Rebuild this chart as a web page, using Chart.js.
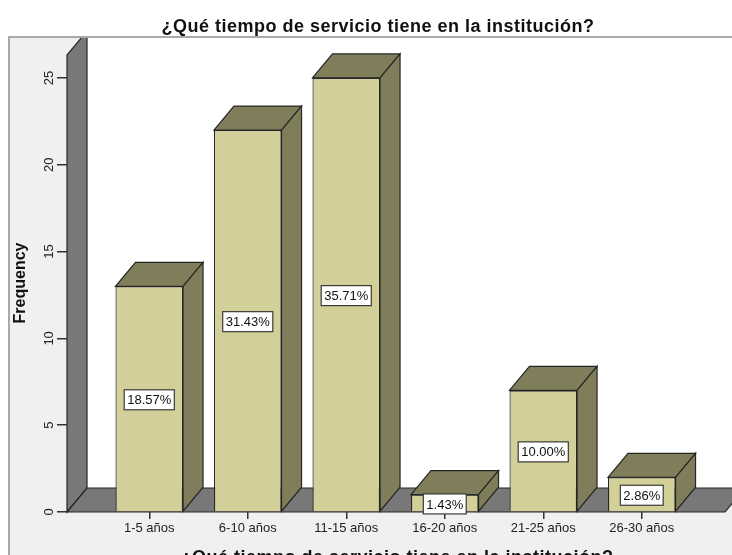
<!DOCTYPE html>
<html>
<head>
<meta charset="utf-8">
<script src="https://cdn.jsdelivr.net/npm/chart.js@4"></script>
<style>
  html, body { margin: 0; padding: 0; background: #fff; }
  #wrap { width: 732px; height: 555px; overflow: hidden; }
</style>
</head>
<body>
<div id="wrap"><canvas id="myBarChart" width="732" height="555"></canvas></div>
<script>
var chartTitle = "¿Qué tiempo de servicio tiene en la institución?";
var yTitle = "Frequency";
var categories = ["1-5 años", "6-10 años", "11-15 años", "16-20 años", "21-25 años", "26-30 años"];
var frequency = [13, 22, 25, 1, 7, 2];
var yTicks = [0, 5, 10, 15, 20, 25];

var total = frequency.reduce(function (a, b) { return a + b; }, 0);
var DX = 20, DY = 24;
var FONT = 'Arial, "Liberation Sans", sans-serif';

function poly(ctx, pts, fill) {
  ctx.beginPath();
  ctx.moveTo(pts[0][0], pts[0][1]);
  for (var i = 1; i < pts.length; i++) ctx.lineTo(pts[i][0], pts[i][1]);
  ctx.closePath();
  ctx.fillStyle = fill;
  ctx.fill();
  ctx.strokeStyle = "#262626";
  ctx.lineWidth = 1.2;
  ctx.stroke();
}

// frame, walls and floor behind everything
var room = {
  id: "room",
  beforeDraw: function (chart) {
    var ctx = chart.ctx, a = chart.chartArea, w = chart.width, h = chart.height;
    ctx.save();
    ctx.fillStyle = "#fff";
    ctx.fillRect(0, 0, w, h);
    ctx.fillStyle = "#f0f0f0";
    ctx.fillRect(9, a.top, w - 9, h - a.top);
    ctx.fillStyle = "#fff";
    ctx.fillRect(a.left + DX, a.top, w, a.bottom - DY - a.top);

    ctx.save();
    ctx.beginPath();
    ctx.rect(0, a.top, w, h);
    ctx.clip();
    poly(ctx, [[a.left, a.bottom], [a.left, a.top + 18], [a.left + DX, a.top + 18 - DY], [a.left + DX, a.bottom - DY]], "#787878");
    poly(ctx, [[a.left, a.bottom], [a.right, a.bottom], [a.right + DX, a.bottom - DY], [a.left + DX, a.bottom - DY]], "#787878");
    ctx.restore();

    ctx.strokeStyle = "#a9a9a9";
    ctx.lineWidth = 2;
    ctx.beginPath();
    ctx.moveTo(9, h);
    ctx.lineTo(9, a.top);
    ctx.lineTo(w, a.top);
    ctx.stroke();
    ctx.restore();
  },
  afterDatasetsDraw: function (chart) {
    var ctx = chart.ctx;
    var meta = chart.getDatasetMeta(0);
    ctx.save();
    meta.data.forEach(function (bar, i) {
      var p = bar.getProps(["x", "y", "base", "width"], true);
      var l = p.x - p.width / 2, r = p.x + p.width / 2;
      poly(ctx, [[l, p.y], [l + DX, p.y - DY], [r + DX, p.y - DY], [r, p.y]], "#807e5a");
      poly(ctx, [[r, p.y], [r + DX, p.y - DY], [r + DX, p.base - DY], [r, p.base]], "#807e5a");
    });
    meta.data.forEach(function (bar, i) {
      var p = bar.getProps(["x", "y", "base"], true);
      var txt = (frequency[i] / total * 100).toFixed(2) + "%";
      ctx.font = "13px " + FONT;
      var tw = ctx.measureText(txt).width + 6;
      var cy = (p.y + p.base) / 2 + 1;
      ctx.fillStyle = "#fff";
      ctx.fillRect(p.x - tw / 2, cy - 10, tw, 20);
      ctx.strokeStyle = "#3a3a3a";
      ctx.lineWidth = 1.2;
      ctx.strokeRect(p.x - tw / 2, cy - 10, tw, 20);
      ctx.fillStyle = "#111";
      ctx.textAlign = "center";
      ctx.textBaseline = "middle";
      ctx.fillText(txt, p.x, cy + 1);
    });
    ctx.restore();
  },
  afterDraw: function (chart) {
    var ctx = chart.ctx;
    ctx.save();
    ctx.fillStyle = "#111";
    ctx.textAlign = "center";
    ctx.textBaseline = "middle";
    ctx.font = "bold 18px " + FONT;
    ctx.letterSpacing = "0.5px";
    ctx.fillText(chartTitle, 378, 27);
    ctx.fillText(chartTitle, 397, 558);
    ctx.letterSpacing = "0px";
    ctx.font = "bold 16px " + FONT;
    ctx.translate(21, 283);
    ctx.rotate(-Math.PI / 2);
    ctx.fillText(yTitle, 0, 0);
    ctx.restore();
  }
};

Chart.defaults.font.family = FONT;

new Chart(document.getElementById("myBarChart").getContext("2d"), {
  type: "bar",
  data: {
    datasets: [{
      label: yTitle,
      data: frequency.map(function (v, i) { return { x: i, y: v }; }),
      backgroundColor: "#d3cf98",
      borderColor: "#262626",
      borderWidth: 1.2,
      categoryPercentage: 1,
      barPercentage: 0.686
    }]
  },
  options: {
    responsive: false,
    animation: false,
    devicePixelRatio: 1,
    layout: { padding: { top: 37, right: 7, left: 0, bottom: 0 } },
    plugins: { legend: { display: false }, tooltip: { enabled: false }, title: { display: false } },
    scales: {
      x: {
        type: "linear",
        offset: false,
        bounds: "data",
        min: -0.835,
        max: 5.845,
        afterBuildTicks: function (s) { s.ticks = categories.map(function (c, i) { return { value: i }; }); },
        afterFit: function (s) { s.height = 43; },
        border: { display: false },
        grid: { offset: false, drawOnChartArea: false, drawTicks: true, tickLength: 7, color: "#333", lineWidth: 1.5 },
        ticks: {
          autoSkip: false, maxRotation: 0, padding: 2, color: "#222",
          font: { size: 13 },
          callback: function (v) { return categories[v]; }
        }
      },
      y: {
        min: 0,
        max: 27.36,
        afterBuildTicks: function (s) { s.ticks = yTicks.map(function (v) { return { value: v }; }); },
        afterFit: function (s) { s.width = 67; },
        border: { display: false },
        grid: { drawOnChartArea: false, drawTicks: true, tickLength: 10, color: "#333", lineWidth: 1.5 },
        ticks: { minRotation: 90, maxRotation: 90, crossAlign: "center", padding: 0, color: "#222", font: { size: 13 } }
      }
    }
  },
  plugins: [room]
});
</script>
</body>
</html>
